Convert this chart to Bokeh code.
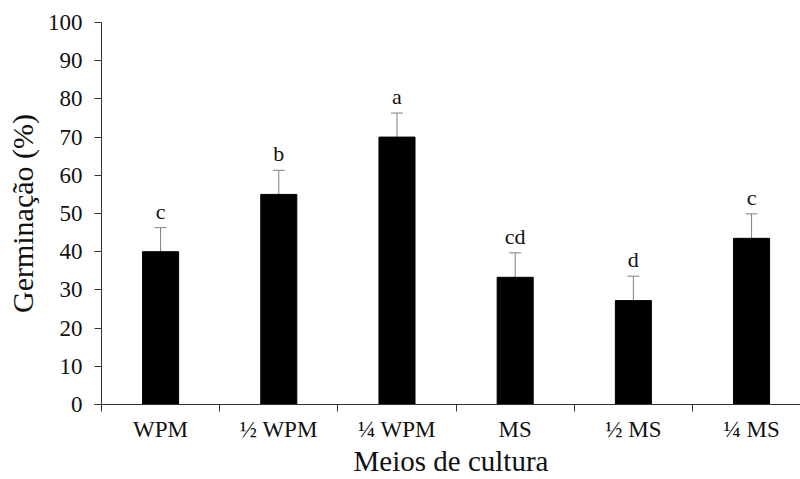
from bokeh.plotting import figure
from bokeh.models import Range1d, FixedTicker, Whisker, ColumnDataSource, TeeHead
from bokeh.embed import file_html
from bokeh.resources import INLINE
from bokeh.core.properties import value

categories = ["WPM", "½ WPM", "¼ WPM", "MS", "½ MS", "¼ MS"]
germination = [40.0, 55.0, 70.0, 33.3, 27.2, 43.5]
errors = [6.3, 6.3, 6.3, 6.4, 6.4, 6.4]
letters = ["c", "b", "a", "cd", "d", "c"]
y_ticks = [0, 10, 20, 30, 40, 50, 60, 70, 80, 90, 100]

xc = [i + 0.5 for i in range(len(categories))]
src = ColumnDataSource(dict(
    x=xc, top=germination,
    upper=[g + e for g, e in zip(germination, errors)],
    lower=[g - e for g, e in zip(germination, errors)],
    lab=letters,
))

FONT = "Liberation Serif"
p = figure(width=800, height=479, output_backend="svg", toolbar_location=None,
           x_range=Range1d(0, 5.914), y_range=Range1d(0, 100),
           min_border_left=101, min_border_right=0, min_border_top=22, min_border_bottom=75)
p.outline_line_color = None
p.xgrid.visible = False
p.ygrid.visible = False

p.vbar(x="x", top="top", width=0.305, bottom=0, source=src,
       fill_color="black", line_color="black")

w = Whisker(base="x", upper="upper", lower="lower", source=src,
            line_color="#808080", line_width=1,
            upper_head=TeeHead(size=12, line_color="#808080", line_width=1),
            lower_head=TeeHead(size=12, line_color="#808080", line_width=1))
p.add_layout(w)

p.text(x="x", y="upper", text="lab", source=src, text_align="center",
       text_baseline="bottom", y_offset=-4, text_font=value(FONT),
       text_font_size="22px", text_color="#111111")

# x axis
xa = p.xaxis[0]
xa.ticker = FixedTicker(ticks=xc, minor_ticks=list(range(len(categories))))
xa.major_label_overrides = {x: c for x, c in zip(xc, categories)}
xa.major_tick_line_color = None
xa.major_tick_out = 0
xa.major_tick_in = 0
xa.minor_tick_out = 7
xa.minor_tick_in = 0
xa.minor_tick_line_color = "#333333"
xa.axis_line_color = "#333333"
xa.major_label_text_font = FONT
xa.major_label_text_font_size = "23px"
xa.major_label_text_color = "#111111"
xa.major_label_standoff = 5
xa.axis_label = "Meios de cultura"
xa.axis_label_text_font = FONT
xa.axis_label_text_font_size = "29px"
xa.axis_label_text_font_style = "normal"
xa.axis_label_text_color = "#111111"
xa.axis_label_standoff = 0

ya = p.yaxis[0]
ya.ticker = FixedTicker(ticks=y_ticks)
ya.minor_tick_line_color = None
ya.major_tick_out = 7
ya.major_tick_in = 0
ya.major_tick_line_color = "#333333"
ya.axis_line_color = "#333333"
ya.major_label_text_font = FONT
ya.major_label_text_font_size = "23px"
ya.major_label_text_color = "#111111"
ya.major_label_standoff = 12
ya.axis_label = "Germinação (%)"
ya.axis_label_text_font = FONT
ya.axis_label_text_font_size = "30px"
ya.axis_label_text_font_style = "normal"
ya.axis_label_text_color = "#111111"
ya.axis_label_standoff = 6

open("out.html", "w").write(file_html(p, INLINE))
